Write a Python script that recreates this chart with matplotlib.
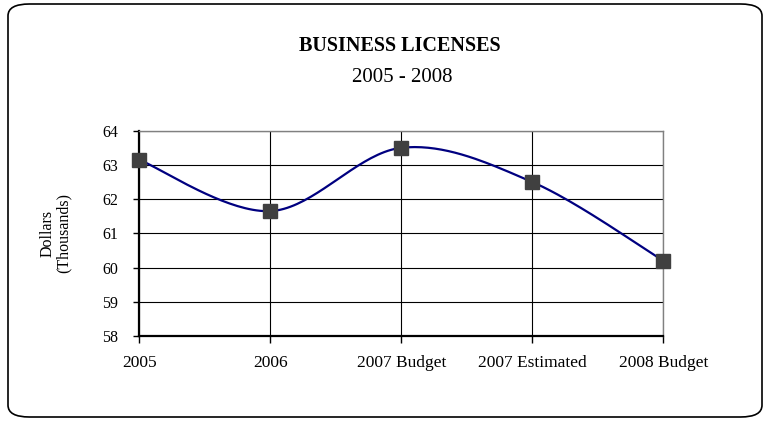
import numpy as np
import matplotlib.pyplot as plt
from matplotlib.patches import FancyBboxPatch

categories = ["2005", "2006", "2007 Budget", "2007 Estimated", "2008 Budget"]
dollars = [63.15, 61.65, 63.5, 62.5, 60.2]
y_ticks = [58, 59, 60, 61, 62, 63, 64]

plt.rcParams['font.family'] = ['Liberation Serif', 'DejaVu Serif']


def smooth(xs, ys, n=40):
    # Bezier smoothing through every point (Catmull-Rom control points)
    px = np.array(xs, float)
    py = np.array(ys, float)
    px = np.concatenate([[px[0]], px, [px[-1]]])
    py = np.concatenate([[py[0]], py, [py[-1]]])
    outx, outy = [], []
    t = np.linspace(0, 1, n)
    for i in range(1, len(px) - 2):
        p0 = np.array([px[i], py[i]])
        p3 = np.array([px[i + 1], py[i + 1]])
        c1 = p0 + (np.array([px[i + 1], py[i + 1]]) - np.array([px[i - 1], py[i - 1]])) / 6
        c2 = p3 - (np.array([px[i + 2], py[i + 2]]) - np.array([px[i], py[i]])) / 6
        b = ((1 - t) ** 3)[:, None] * p0 + (3 * (1 - t) ** 2 * t)[:, None] * c1 \
            + (3 * (1 - t) * t ** 2)[:, None] * c2 + (t ** 3)[:, None] * p3
        outx.extend(b[:, 0])
        outy.extend(b[:, 1])
    return outx, outy


fig = plt.figure(figsize=(7.67, 4.21), dpi=100)
W, H = 767, 421

# rounded outer frame
frame = FancyBboxPatch((8 / W, 4 / H), 754 / W, 413 / H,
                       boxstyle="round,pad=0,rounding_size=0.028",
                       transform=fig.transFigure, fill=False,
                       edgecolor='black', linewidth=1.2)
fig.patches.append(frame)

ax = fig.add_axes([139.3 / W, 1 - 336 / H, 524 / W, 205.3 / H])

x = np.arange(len(categories))
sx, sy = smooth(x, dollars)
ax.plot(sx, sy, color='#000080', linewidth=1.6, zorder=3)
ax.plot(x, dollars, linestyle='none', marker='s', markersize=9.5,
        markerfacecolor='#404040', markeredgecolor='#404040', zorder=4,
        clip_on=False)

ax.set_xlim(0, len(categories) - 1)
ax.set_ylim(58, 64)
ax.set_yticks(y_ticks)
ax.set_xticks(x)
ax.set_xticklabels(categories, fontsize=12.5)
ax.tick_params(axis='y', labelsize=11.5, direction='out', length=4, width=1, pad=11)
ax.tick_params(axis='x', direction='out', length=5, width=1, pad=9)
ax.grid(True, color='black', linewidth=0.8)
ax.set_axisbelow(True)

for side in ['top', 'right']:
    ax.spines[side].set_color('#808080')
    ax.spines[side].set_linewidth(1)
ax.spines['left'].set_linewidth(1.6)
ax.spines['bottom'].set_linewidth(1.6)

ax.set_ylabel("Dollars\n(Thousands)", fontsize=11.5, linespacing=1.0, labelpad=22)

fig.text(400 / W, 1 - 46 / H, "BUSINESS LICENSES", ha='center', va='center',
         fontsize=14.5, fontweight='bold')
fig.text(402 / W, 1 - 78 / H, "2005 - 2008", ha='center', va='center',
         fontsize=15)

fig.savefig("out.png", dpi=100)
